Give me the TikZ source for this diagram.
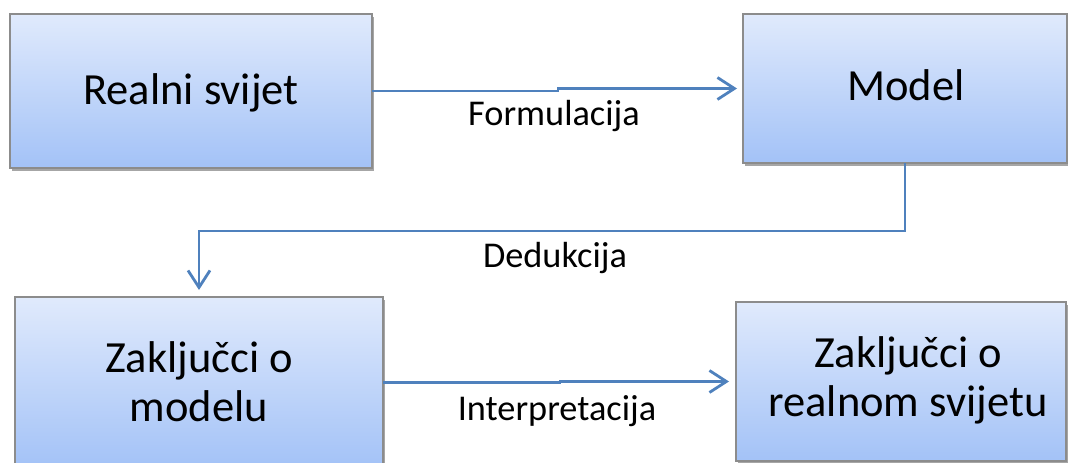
\documentclass[tikz,border=0pt]{standalone}
\usepackage{fontspec}
\setmainfont{Carlito}
\usetikzlibrary{arrows.meta,shadows}
\definecolor{boxtop}{HTML}{E0EAFC}
\definecolor{boxbot}{HTML}{A3C2F7}
\definecolor{boxline}{HTML}{8C8C8C}
\definecolor{connblue}{HTML}{4F81BD}
\tikzset{
  box/.style={draw=boxline, line width=1.3pt, top color=boxtop, bottom color=boxbot,
    inner sep=0pt, outer sep=0pt,
    drop shadow={shadow xshift=1.5pt, shadow yshift=-2.5pt, fill=black, opacity=0.35}},
  boxtext/.style={inner sep=0pt, font=\fontsize{44.5}{49}\selectfont, align=center, anchor=base},
  lbl/.style={inner sep=0pt, font=\fontsize{36.3}{42}\selectfont, anchor=base},
  conn/.style={draw=connblue, line width=2.8pt,
    -{Straight Barb[length=17pt,width=22pt,line width=2.8pt]}}
}
\begin{document}
\begin{tikzpicture}[x=1pt,y=-1pt]
\useasboundingbox (0,0) rectangle (1068,463);
\node[box, minimum width=362pt, minimum height=154pt] (A) at (191,91) {};
\node[box, minimum width=324pt, minimum height=149pt] (B) at (905,88.5) {};
\node[box, minimum width=368pt, minimum height=171pt] (C) at (199,382.5) {};
\node[box, minimum width=330pt, minimum height=159pt] (D) at (901,381.5) {};

\node[boxtext] (tA) at (191,104) {Realni svijet};
\node[boxtext] (tB) at (906,100) {Model};
\node[boxtext] (tC) at (199,421) {Zaključci o\\modelu};
\node[boxtext] (tD) at (908,416) {Zaključci o\\realnom svijetu};

\coordinate (sAB) at (558,91);
\coordinate (kBC) at (555,231);
\coordinate (sCD) at (560,382.5);

\draw[conn, shorten >=6pt] (A.east) -| (sAB) |- (B.west);
\draw[conn, shorten >=7pt] (B.south) |- (kBC) -| (C.north);
\draw[conn, shorten >=7pt] (C.east) -| (sCD) |- (D.west);

\node[lbl] (lF) at (554,125) {Formulacija};
\node[lbl] (lD) at (555,267) {Dedukcija};
\node[lbl] (lI) at (557,420) {Interpretacija};
\end{tikzpicture}
\end{document}
